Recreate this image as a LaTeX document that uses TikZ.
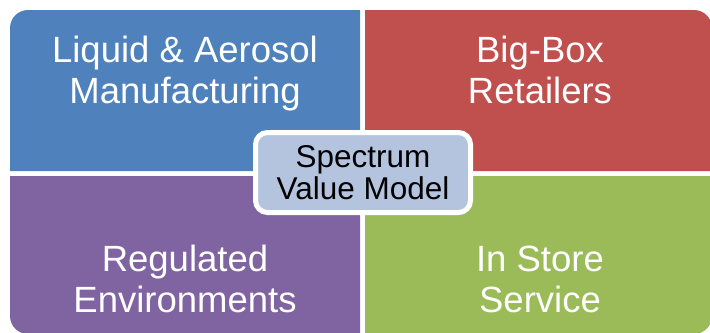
\documentclass[tikz,border=0pt]{standalone}
\usepackage{fontspec}
\setmainfont{Liberation Sans}
\definecolor{qblue}{HTML}{4F81BD}
\definecolor{qred}{HTML}{C0504D}
\definecolor{qpurple}{HTML}{8064A2}
\definecolor{qgreen}{HTML}{9BBB59}
\definecolor{cfill}{HTML}{B4C4DF}
\begin{document}
\begin{tikzpicture}[x=1bp,y=-1bp,
  quadtext/.style={text=white, align=center, inner sep=0pt, font=\fontsize{36.5bp}{41bp}\selectfont},
  hub/.style={draw=white, line width=5bp, fill=cfill, rounded corners=12bp,
    minimum width=215bp, minimum height=80bp, inner sep=0pt, align=center,
    text=black, font=\fontsize{31.5bp}{32bp}\selectfont}]
\useasboundingbox (0,0) rectangle (710,332);
% quadrants
\fill[qblue] (10,171) -- (10,28) arc(180:270:18) -- (360,10) -- (360,171) -- cycle;
\fill[qred] (365,10) -- (694,10) arc(270:360:18) -- (712,171) -- (365,171) -- cycle;
\fill[qpurple] (10,176) -- (360,176) -- (360,334) -- (28,334) arc(90:180:18) -- cycle;
\fill[qgreen] (365,176) -- (712,176) -- (712,316) arc(0:90:18) -- (365,334) -- cycle;
% texts
\node[quadtext] (liquid) at (185,74) {Liquid \& Aerosol\\Manufacturing};
\node[quadtext] (bigbox) at (540,70) {Big-Box\\Retailers};
\node[quadtext] (regulated) at (185,279) {Regulated\\Environments};
\node[quadtext] (instore) at (540,279) {In Store\\Service};
% hub
\node[hub] (hub) at (363,172.5) {Spectrum\\Value Model};
\end{tikzpicture}
\end{document}
